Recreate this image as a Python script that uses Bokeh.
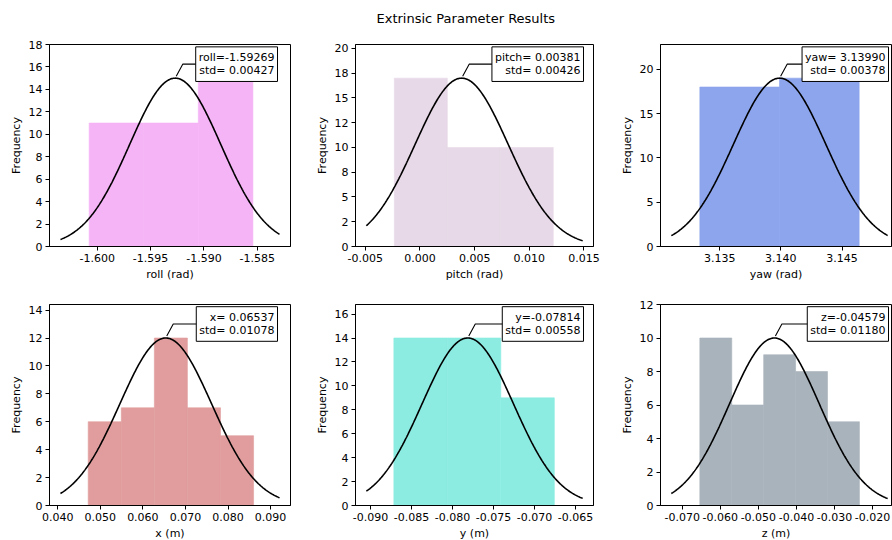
import numpy as np
from bokeh.plotting import figure
from bokeh.layouts import row, column
from bokeh.models import FixedTicker, Label, Title
from bokeh.embed import file_html
from bokeh.resources import INLINE

# ---------------- data ----------------
TITLE = "Extrinsic Parameter Results"
x_labels = ["roll (rad)", "pitch (rad)", "yaw (rad)", "x (m)", "y (m)", "z (m)"]
means = [-1.59269, 0.00381, 3.13990, 0.06537, -0.07814, -0.04579]
stds = [0.00427, 0.00426, 0.00378, 0.01078, 0.00558, 0.01180]
mean_texts = ["roll=-1.59269", "pitch= 0.00381", "yaw= 3.13990",
              "x= 0.06537", "y=-0.07814", "z=-0.04579"]
std_texts = ["std= 0.00427", "std= 0.00426", "std= 0.00378",
             "std= 0.01078", "std= 0.00558", "std= 0.01180"]

roll_edges = [-1.60076, -1.59564, -1.59053, -1.58541]
roll_counts = [11, 11, 15]
pitch_edges = [-0.00235, 0.00250, 0.00734, 0.01219]
pitch_counts = [17, 10, 10]
yaw_edges = [3.13338, 3.13989, 3.14640]
yaw_counts = [18, 19]
x_edges = [0.04716, 0.05493, 0.06270, 0.07046, 0.07823, 0.08600]
x_counts = [6, 7, 12, 7, 5]
y_edges = [-0.08716, -0.08063, -0.07411, -0.06758]
y_counts = [14, 14, 9]
z_edges = [-0.06538, -0.05699, -0.04861, -0.04022, -0.03184, -0.02345]
z_counts = [10, 6, 9, 8, 5]

# x-extent of the fitted normal curve in each panel
curve_lo = [-1.60345, -0.00491, 3.13105, 0.04064, -0.09052, -0.07287]
curve_hi = [-1.58291, 0.01488, 3.14873, 0.09210, -0.06412, -0.01603]

# violet, thistle, royalblue, indianred, turquoise, slategray at 60% over white
colors = ["#F5B4F5", "#E8D9E8", "#8DA5ED", "#E19D9D", "#8CECE2", "#A9B3BC"]

roll_xticks = [-1.600, -1.595, -1.590, -1.585]
roll_xlabels = ["-1.600", "-1.595", "-1.590", "-1.585"]
pitch_xticks = [-0.005, 0.0, 0.005, 0.010, 0.015]
pitch_xlabels = ["-0.005", "0.000", "0.005", "0.010", "0.015"]
yaw_xticks = [3.135, 3.140, 3.145]
yaw_xlabels = ["3.135", "3.140", "3.145"]
x_xticks = [0.040, 0.050, 0.060, 0.070, 0.080, 0.090]
x_xlabels = ["0.040", "0.050", "0.060", "0.070", "0.080", "0.090"]
y_xticks = [-0.090, -0.085, -0.080, -0.075, -0.070, -0.065]
y_xlabels = ["-0.090", "-0.085", "-0.080", "-0.075", "-0.070", "-0.065"]
z_xticks = [-0.070, -0.060, -0.050, -0.040, -0.030, -0.020]
z_xlabels = ["-0.070", "-0.060", "-0.050", "-0.040", "-0.030", "-0.020"]

roll_yticks = [0, 2, 4, 6, 8, 10, 12, 14, 16, 18]
roll_ylabels = ["0", "2", "4", "6", "8", "10", "12", "14", "16", "18"]
pitch_yticks = [0, 2.5, 5, 7.5, 10, 12.5, 15, 17.5, 20]
pitch_ylabels = ["0", "2", "5", "8", "10", "12", "15", "18", "20"]
yaw_yticks = [0, 5, 10, 15, 20]
yaw_ylabels = ["0", "5", "10", "15", "20"]
x_yticks = [0, 2, 4, 6, 8, 10, 12, 14]
x_ylabels = ["0", "2", "4", "6", "8", "10", "12", "14"]
y_yticks = [0, 2, 4, 6, 8, 10, 12, 14, 16]
y_ylabels = ["0", "2", "4", "6", "8", "10", "12", "14", "16"]
z_yticks = [0, 2, 4, 6, 8, 10, 12]
z_ylabels = ["0", "2", "4", "6", "8", "10", "12"]

edges_all = [roll_edges, pitch_edges, yaw_edges, x_edges, y_edges, z_edges]
counts_all = [roll_counts, pitch_counts, yaw_counts, x_counts, y_counts, z_counts]
xticks_all = [(roll_xticks, roll_xlabels), (pitch_xticks, pitch_xlabels),
              (yaw_xticks, yaw_xlabels), (x_xticks, x_xlabels),
              (y_xticks, y_xlabels), (z_xticks, z_xlabels)]
yticks_all = [(roll_yticks, roll_ylabels), (pitch_yticks, pitch_ylabels),
              (yaw_yticks, yaw_ylabels), (x_yticks, x_ylabels),
              (y_yticks, y_ylabels), (z_yticks, z_ylabels)]

# ---------------- layout ----------------
FONT = "DejaVu Sans"
col_left = [49, 55, 57]
col_frame = [241, 238, 231]     # visible frame width
col_full = [241, 238, 238]      # nominal frame width (third column is cropped)
col_right = [10, 10, 1]
row_top = [44, 8]
row_frame = [202, 201]
row_bottom = [50, 35]
LINE_PX = 13.2                  # line height of the annotation text


def make_panel(i):
    r, c = divmod(i, 3)
    lo, hi = curve_lo[i], curve_hi[i]
    span = hi - lo
    xs0 = lo - 0.05 * span
    xe_full = hi + 0.05 * span
    dxp = (xe_full - xs0) / col_full[c]
    xe = xs0 + col_frame[c] * dxp
    counts = counts_all[i]
    peak = max(counts)
    ytop = 1.2 * peak
    fh = row_frame[r]
    dyp = ytop / fh

    p = figure(frame_width=col_frame[c], frame_height=fh,
               min_border_left=col_left[c], min_border_right=col_right[c],
               min_border_top=row_top[r], min_border_bottom=row_bottom[r],
               x_range=(xs0, xe), y_range=(0, ytop),
               output_backend="svg", toolbar_location=None, tools="")
    p.background_fill_color = "white"
    p.border_fill_color = "white"
    p.outline_line_color = "black"
    p.outline_line_width = 1
    p.grid.visible = False

    e = edges_all[i]
    p.quad(left=e[:-1], right=e[1:], bottom=0, top=counts,
           fill_color=colors[i], line_color=colors[i], line_width=0.6)

    mu, sd = means[i], stds[i]
    xc = np.linspace(lo, hi, 300)
    yc = peak * np.exp(-0.5 * ((xc - mu) / sd) ** 2)
    p.line(xc, yc, line_color="black", line_width=1.6)

    # connector from the peak to the annotation box
    box_right = xs0 + 228 * dxp
    ky = peak + 14 * dyp
    p.line([mu + 1 * dxp, mu + 7.5 * dxp, box_right - 10 * dxp],
           [peak + 2 * dyp, ky, ky], line_color="black", line_width=1.1)

    # box sized by the two-line text (drawn in white, hidden)
    box = Label(x=box_right, y=ky, x_units="data", y_units="data",
                text=mean_texts[i] + "\n" + std_texts[i],
                text_align="right", text_baseline="middle",
                text_font=FONT, text_font_size="11px", text_color="white",
                background_fill_color="white", background_fill_alpha=1.0,
                border_line_color="black", border_line_width=1, padding=3)
    p.add_layout(box)
    # right-justified lines
    for k, txt in enumerate((mean_texts[i], std_texts[i])):
        off = LINE_PX / 2 if k == 0 else -LINE_PX / 2
        p.add_layout(Label(x=box_right, y=ky, x_units="data", y_units="data",
                           x_offset=-3, y_offset=off, text=txt,
                           text_align="right", text_baseline="middle",
                           text_font=FONT, text_font_size="11px",
                           text_color="black"))

    xt, xl = xticks_all[i]
    yt, yl = yticks_all[i]
    p.xaxis.ticker = FixedTicker(ticks=xt)
    p.xaxis.major_label_overrides = {float(t): s for t, s in zip(xt, xl)}
    p.yaxis.ticker = FixedTicker(ticks=yt)
    p.yaxis.major_label_overrides = {float(t): s for t, s in zip(yt, yl)}
    p.xaxis.axis_label = x_labels[i]
    p.yaxis.axis_label = "Frequency"
    for ax in (p.xaxis, p.yaxis):
        ax.axis_line_color = "black"
        ax.major_tick_line_color = "black"
        ax.major_tick_out = 4
        ax.major_tick_in = 0
        ax.minor_tick_line_color = None
        ax.major_label_text_font = FONT
        ax.major_label_text_font_size = "11px"
        ax.major_label_text_color = "black"
        ax.axis_label_text_font = FONT
        ax.axis_label_text_font_size = "11px"
        ax.axis_label_text_font_style = "normal"
        ax.axis_label_text_color = "black"
        ax.major_label_standoff = 3
        ax.axis_label_standoff = 3

    if i == 1:
        # real title, with a thin spacer title between it and the frame
        p.title.text = TITLE
        p.title.align = "left"
        p.title.offset = 21
        p.title.standoff = 0
        p.title.text_font = FONT
        p.title.text_font_size = "13px"
        p.title.text_font_style = "normal"
        p.title.text_color = "black"
        p.add_layout(Title(text=" ", text_font_size="1px", standoff=16), "above")
    return p


panels = [make_panel(i) for i in range(6)]
layout = column(row(*panels[:3], spacing=0), row(*panels[3:], spacing=0), spacing=0)

open("out.html", "w").write(file_html(layout, INLINE))
